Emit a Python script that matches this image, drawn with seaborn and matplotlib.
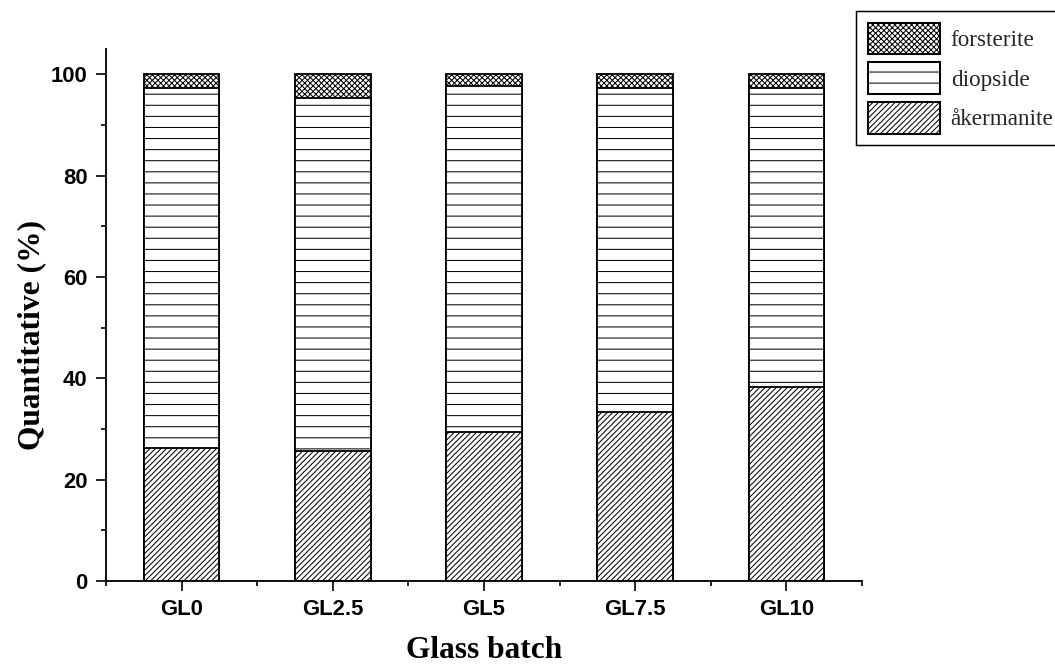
import matplotlib
matplotlib.use("Agg")
import matplotlib.pyplot as plt
import matplotlib.patches as mpatches
from matplotlib.ticker import MultipleLocator
import seaborn as sns
import pandas as pd
import numpy as np

batches = ["GL0", "GL2.5", "GL5", "GL7.5", "GL10"]
akermanite = [26.2, 25.6, 29.4, 33.4, 38.2]
diopside = [71.2, 69.8, 68.2, 64.0, 59.2]
forsterite = [2.6, 4.6, 2.4, 2.6, 2.6]
phase_names = ["forsterite", "diopside", "åkermanite"]

sns.set_style("ticks")
plt.rcParams["hatch.linewidth"] = 0.55
plt.rcParams["hatch.color"] = "black"

DPI = 133
fig = plt.figure(figsize=(1055 / DPI, 672 / DPI), dpi=DPI)
ax = fig.add_axes([106 / 1055, 1 - 581 / 672, (862 - 106) / 1055, (581 - 49) / 672])

ak = np.array(akermanite)
di = np.array(diopside)
fo = np.array(forsterite)
df = pd.DataFrame({
    "batch": batches,
    "top_fo": ak + di + fo,
    "top_di": ak + di,
    "top_ak": ak,
})

styles = {
    "forsterite": "xxxxxxxx",
    "diopside": "--",
    "åkermanite": "////////",
}

for col, name in [("top_fo", "forsterite"), ("top_di", "diopside"), ("top_ak", "åkermanite")]:
    sns.barplot(data=df, x="batch", y=col, ax=ax, color="white", saturation=1,
                edgecolor="black", linewidth=1.0, hatch=styles[name], width=0.5,
                errorbar=None)

ax.set_xlim(-0.5, 4.5)
ax.set_ylim(0, 105)
ax.yaxis.set_major_locator(MultipleLocator(20))
ax.yaxis.set_minor_locator(MultipleLocator(10))
ax.set_xticks(range(len(batches)))
ax.set_xticks(np.arange(-0.5, len(batches), 1.0), minor=True)
ax.set_xticklabels(batches)

for side in ["top", "right"]:
    ax.spines[side].set_visible(False)
for side in ["left", "bottom"]:
    ax.spines[side].set_linewidth(1.0)
    ax.spines[side].set_color("black")

ax.tick_params(axis="both", which="major", direction="out", length=5.5, width=0.9,
               color="black", pad=4.5)
ax.tick_params(axis="both", which="minor", direction="out", length=2.8, width=0.9,
               color="black")
for lab in ax.get_xticklabels() + ax.get_yticklabels():
    lab.set_fontfamily("Liberation Sans")
    lab.set_fontweight("bold")
    lab.set_fontsize(12)
    lab.set_color("black")

ax.set_xlabel("Glass batch", fontfamily="Liberation Serif", fontweight="bold",
              fontsize=17, color="black")
ax.set_ylabel("Quantitative (%)", fontfamily="Liberation Serif", fontweight="bold",
              fontsize=17, color="black")
ax.xaxis.set_label_coords(0.5, -(636 - 581) / 532)
ax.yaxis.set_label_coords(-(106 - 46) / 756, (581 - 335) / 532)

handles = [mpatches.Patch(facecolor="white", edgecolor="black", linewidth=1.1,
                          hatch=styles[n], label=n) for n in phase_names]
leg = fig.legend(handles=handles, loc="upper left",
                 bbox_to_anchor=(856 / 1055, 1 - 11 / 672),
                 borderaxespad=0, frameon=True, fancybox=False,
                 prop={"family": "Liberation Serif", "size": 12.5},
                 handlelength=3.12, handleheight=1.75, labelspacing=0.33,
                 handletextpad=0.48, borderpad=0.5)
leg.get_frame().set_edgecolor("black")
leg.get_frame().set_linewidth(0.8)
leg.get_frame().set_alpha(1)

fig.savefig("out.png", dpi=DPI)
